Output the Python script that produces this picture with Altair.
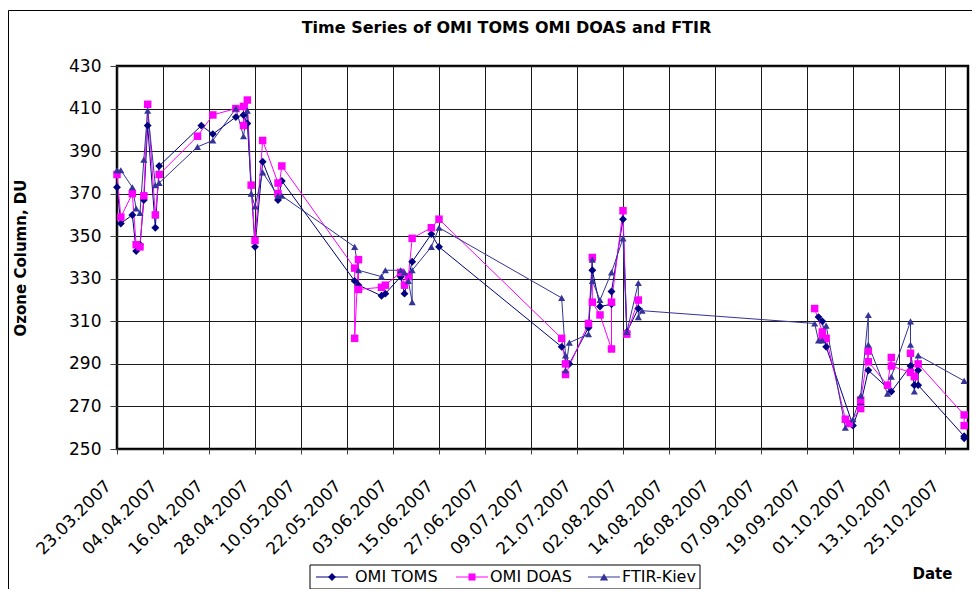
import altair as alt
import pandas as pd
from datetime import datetime, timezone

TITLE = "Time Series of OMI TOMS OMI DOAS and FTIR"
series_names = ["OMI TOMS", "OMI DOAS", "FTIR-Kiev"]
series_colors = ["#000080", "#FF00FF", "#333399"]
series_shapes = ["diamond", "square", "triangle-up"]
series_sizes = [62, 50, 70]
# the satellite series have no line across the August-September gap
gap_series = ["OMI TOMS", "OMI DOAS"]
gap_after = "06.08.2007"

tick_dates = ["23.03.2007", "04.04.2007", "16.04.2007", "28.04.2007", "10.05.2007",
              "22.05.2007", "03.06.2007", "15.06.2007", "27.06.2007", "09.07.2007",
              "21.07.2007", "02.08.2007", "14.08.2007", "26.08.2007", "07.09.2007",
              "19.09.2007", "01.10.2007", "13.10.2007", "25.10.2007"]
date_domain = ["23.03.2007", "31.10.2007"]
y_ticks = [250, 270, 290, 310, 330, 350, 370, 390, 410, 430]

toms_dates = ["23.03.2007", "24.03.2007", "27.03.2007", "28.03.2007", "29.03.2007", "30.03.2007",
              "31.03.2007", "02.04.2007", "03.04.2007", "14.04.2007", "17.04.2007", "23.04.2007",
              "25.04.2007", "26.04.2007", "28.04.2007", "30.04.2007", "04.05.2007", "05.05.2007",
              "24.05.2007", "25.05.2007", "31.05.2007", "01.06.2007", "05.06.2007", "06.06.2007",
              "08.06.2007", "13.06.2007", "15.06.2007",
              "17.07.2007", "19.07.2007", "24.07.2007", "25.07.2007", "27.07.2007", "30.07.2007",
              "30.07.2007", "02.08.2007", "03.08.2007", "06.08.2007",
              "22.09.2007", "23.09.2007", "24.09.2007", "01.10.2007", "03.10.2007", "05.10.2007",
              "11.10.2007", "16.10.2007", "17.10.2007", "18.10.2007", "18.10.2007", "30.10.2007",
              "30.10.2007"]
toms_values = [373, 356, 360, 343, 346, 367,
               402, 354, 383, 402, 398, 406,
               407, 403, 345, 385, 367, 376,
               329, 327, 322, 323, 331, 323,
               338, 351, 345,
               298, 290, 307, 334, 317, 318,
               324, 358, 305, 316,
               312, 310, 298, 261, 271, 287,
               277, 289, 280, 287, 280, 256,
               255]

doas_dates = ["23.03.2007", "24.03.2007", "27.03.2007", "28.03.2007", "29.03.2007", "30.03.2007",
              "31.03.2007", "02.04.2007", "03.04.2007", "13.04.2007", "17.04.2007", "23.04.2007",
              "25.04.2007", "25.04.2007", "26.04.2007", "27.04.2007", "28.04.2007", "30.04.2007",
              "04.05.2007", "04.05.2007", "05.05.2007",
              "24.05.2007", "24.05.2007", "25.05.2007", "25.05.2007", "31.05.2007", "01.06.2007",
              "05.06.2007", "06.06.2007", "07.06.2007", "08.06.2007", "13.06.2007", "15.06.2007",
              "17.07.2007", "18.07.2007", "18.07.2007", "24.07.2007", "25.07.2007", "25.07.2007",
              "27.07.2007", "30.07.2007", "30.07.2007", "02.08.2007", "03.08.2007", "06.08.2007",
              "21.09.2007", "23.09.2007", "23.09.2007", "24.09.2007", "29.09.2007", "30.09.2007",
              "03.10.2007", "03.10.2007", "05.10.2007", "05.10.2007", "10.10.2007", "11.10.2007",
              "11.10.2007", "16.10.2007", "16.10.2007", "17.10.2007", "18.10.2007", "30.10.2007",
              "30.10.2007"]
doas_values = [379, 359, 370, 346, 345, 369,
               412, 360, 379, 397, 407, 410,
               411, 402, 414, 374, 348, 395,
               375, 370, 383,
               335, 302, 339, 325, 326, 327,
               333, 327, 331, 349, 354, 358,
               302, 290, 285, 309, 340, 319,
               313, 297, 319, 362, 304, 320,
               316, 305, 303, 302, 264, 262,
               269, 273, 296, 291, 280, 293,
               289, 286, 295, 284, 290, 266,
               261]

ftir_dates = ["23.03.2007", "24.03.2007", "27.03.2007", "28.03.2007", "29.03.2007", "30.03.2007",
              "31.03.2007", "02.04.2007", "03.04.2007", "13.04.2007", "17.04.2007", "23.04.2007",
              "25.04.2007", "26.04.2007", "27.04.2007", "28.04.2007", "30.04.2007", "04.05.2007",
              "05.05.2007",
              "24.05.2007", "25.05.2007", "31.05.2007", "01.06.2007", "05.06.2007", "06.06.2007",
              "07.06.2007", "08.06.2007", "08.06.2007", "13.06.2007", "15.06.2007",
              "17.07.2007", "18.07.2007", "18.07.2007", "19.07.2007", "24.07.2007", "25.07.2007",
              "25.07.2007", "27.07.2007", "30.07.2007", "02.08.2007", "03.08.2007", "06.08.2007",
              "06.08.2007", "07.08.2007",
              "21.09.2007", "22.09.2007", "23.09.2007", "24.09.2007", "29.09.2007", "01.10.2007",
              "03.10.2007", "05.10.2007", "05.10.2007", "10.10.2007", "11.10.2007", "16.10.2007",
              "16.10.2007", "17.10.2007", "18.10.2007", "30.10.2007"]
ftir_values = [381, 381, 373, 363, 361, 386,
               409, 374, 375, 392, 395, 410,
               397, 409, 370, 364, 380, 369,
               369,
               345, 334, 331, 334, 334, 333,
               329, 319, 334, 345, 354,
               321, 294, 287, 300, 304, 339,
               329, 320, 333, 349, 305, 328,
               312, 315,
               309, 301, 301, 308, 260, 264,
               275, 313, 299, 276, 284, 310,
               299, 277, 294, 282]


def ms(d):
    return int(datetime.strptime(d, "%d.%m.%Y").replace(tzinfo=timezone.utc).timestamp() * 1000)


rows = []
for name, dts, vals in zip(series_names,
                           [toms_dates, doas_dates, ftir_dates],
                           [toms_values, doas_values, ftir_values]):
    for i, (d, v) in enumerate(zip(dts, vals)):
        seg = 1 if (name in gap_series and ms(d) > ms(gap_after)) else 0
        rows.append({"series": name, "marker": name, "t": ms(d), "value": v,
                     "order": i, "seg": seg})
df = pd.DataFrame(rows)

FONT = "DejaVu Sans"

x_enc = alt.X(
    "t:T",
    scale=alt.Scale(type="utc", domain=[ms(date_domain[0]), ms(date_domain[1])]),
    axis=alt.Axis(values=[ms(d) for d in tick_dates], format="%d.%m.%Y",
                  labelAngle=315, labelAlign="right", labelBaseline="middle",
                  labelPadding=29, labelOffset=-9, tickSize=5, grid=True,
                  labelOverlap=False, labelFlush=False, domain=False,
                  title="Date", titleX=815, titleY=129, titleAlign="center",
                  titleBaseline="alphabetic", titleAngle=0),
)
y_enc = alt.Y(
    "value:Q",
    scale=alt.Scale(domain=[250, 430], nice=False, zero=False),
    axis=alt.Axis(values=y_ticks, title="Ozone Column, DU", titleX=-97, titleY=191.5,
                  titleAngle=270, titleAlign="center", titleBaseline="middle",
                  tickSize=7, labelPadding=9, domain=False, grid=True),
)
color_scale = alt.Scale(domain=series_names, range=series_colors)

lines = alt.Chart(df).mark_line(strokeWidth=1).encode(
    x=x_enc, y=y_enc,
    color=alt.Color("series:N", scale=color_scale, legend=None),
    detail=alt.Detail("seg:N"),
    order=alt.Order("order:Q"),
)
points = alt.Chart(df).mark_point(filled=True, opacity=1, strokeWidth=0.6).encode(
    x=x_enc, y=y_enc,
    color=alt.Color("series:N", scale=color_scale, legend=None),
    shape=alt.Shape("marker:N", scale=alt.Scale(domain=series_names, range=series_shapes), legend=None),
    size=alt.Size("marker:O", scale=alt.Scale(domain=series_names, range=series_sizes), legend=None),
)

one = pd.DataFrame({"k": [0]})
left_border = alt.Chart(one).mark_rule(color="black", strokeWidth=1).encode(
    x=alt.value(-108.5), y=alt.value(-55.5), y2=alt.value(523))
top_border = alt.Chart(one).mark_rule(color="black", strokeWidth=1).encode(
    x=alt.value(-108.5), x2=alt.value(855), y=alt.value(-55.5))
title_text = alt.Chart(one).mark_text(
    text=TITLE, font=FONT, fontSize=16, fontWeight="bold", color="black",
    align="center", baseline="alphabetic").encode(x=alt.value(389.5), y=alt.value(-33))

# Excel-style legend box below the plot: line with marker, then the series name
legend_y = 511
legend_sym_x = [215, 355, 487]
legend_lab_x = [238, 373, 505]
legend_layers = [
    alt.Chart(one).mark_rect(fill="white", stroke="black", strokeWidth=1).encode(
        x=alt.value(193), x2=alt.value(583), y=alt.value(499), y2=alt.value(523))
]
for name, col, shp, sz, cx, lx in zip(series_names, series_colors, series_shapes,
                                      series_sizes, legend_sym_x, legend_lab_x):
    legend_layers.append(alt.Chart(one).mark_rule(color=col, strokeWidth=1).encode(
        x=alt.value(cx - 16), x2=alt.value(cx + 16), y=alt.value(legend_y)))
    legend_layers.append(alt.Chart(one).mark_point(
        shape=shp, filled=True, color=col, size=sz, opacity=1).encode(
        x=alt.value(cx), y=alt.value(legend_y)))
    legend_layers.append(alt.Chart(one).mark_text(
        text=name, font=FONT, fontSize=16, color="black", align="left",
        baseline="middle").encode(x=alt.value(lx), y=alt.value(legend_y)))

chart = alt.layer(lines, points, left_border, top_border, title_text,
                  *legend_layers).properties(
    width=851, height=383,
    padding={"left": 109, "top": 58, "right": 4, "bottom": 140},
    autosize=alt.AutoSizeParams(type="none"),
    background="white",
).configure_view(
    stroke="black", strokeWidth=2.5
).configure_axis(
    labelFont=FONT, labelFontSize=17, labelColor="black",
    titleFont=FONT, titleFontSize=15, titleFontWeight="bold", titleColor="black",
    gridColor="#1a1a1a", gridWidth=1, tickColor="#404040", tickWidth=1,
)

chart.save("out.html", embed_options={"renderer": "svg", "actions": False})
